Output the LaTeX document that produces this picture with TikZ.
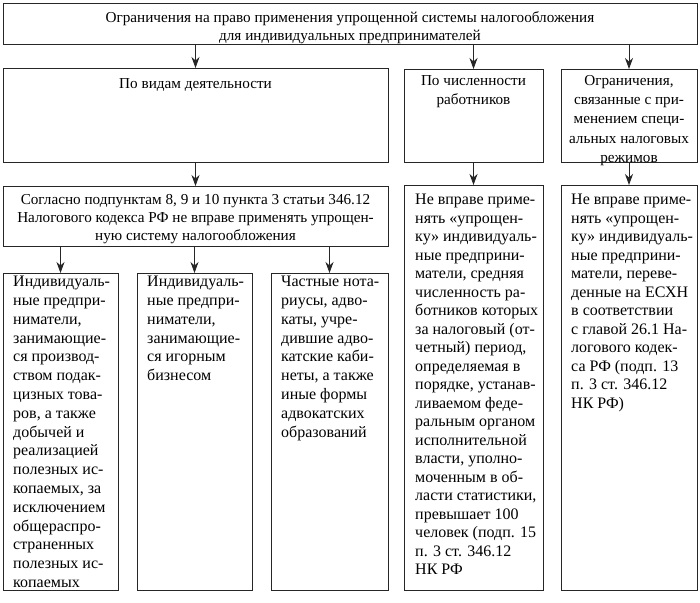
\documentclass[tikz,border=0pt]{standalone}
\usepackage{fontspec}
\setmainfont{Liberation Serif}
\usetikzlibrary{arrows.meta,calc}
\begin{document}
\begin{tikzpicture}[x=1pt,y=-1pt,
  box/.style={draw=black!85,line width=0.9pt,rectangle,inner sep=0pt,outer sep=0pt,anchor=north west},
  txt/.style={inner sep=0pt,font=\fontsize{16}{18.6}\selectfont,align=left,anchor=north west},
  ctxt/.style={inner sep=0pt,font=\fontsize{15.2}{18.6}\selectfont,align=center,anchor=north},
  arr/.style={draw=black!85,line width=0.9pt,-{Stealth[length=11pt,width=8pt,inset=3.5pt]}}]
\useasboundingbox[fill=white] (0,0) rectangle (700,602);
% boxes
\node[box,minimum width=694pt,minimum height=41pt] (top) at (3,3) {};
\node[box,minimum width=385pt,minimum height=94pt] (L2) at (3,68) {};
\node[box,minimum width=139pt,minimum height=93pt] (M2) at (404,69) {};
\node[box,minimum width=136pt,minimum height=93pt] (R2) at (561,69) {};
\node[box,minimum width=385pt,minimum height=60pt] (L3) at (3,186) {};
\node[box,minimum width=139pt,minimum height=405pt] (M3) at (404,185) {};
\node[box,minimum width=136pt,minimum height=405pt] (R3) at (561,185) {};
\node[box,minimum width=115pt,minimum height=317pt] (C1) at (3,273) {};
\node[box,minimum width=115pt,minimum height=317pt] (C2) at (137,273) {};
\node[box,minimum width=117pt,minimum height=317pt] (C3) at (271,273) {};
% texts
\node[ctxt,font=\fontsize{15.2}{18}\selectfont] (ttop) at ($(top.north)+(0,8)$) {Ограничения на право применения упрощенной системы налогообложения\\для индивидуальных предпринимателей};
\node[ctxt] (tL2) at ($(L2.north)+(0,10)$) {По видам деятельности};
\node[ctxt,font=\fontsize{15.2}{19.5}\selectfont] (tM2) at ($(M2.north)+(0,6)$) {По численности\\работников};
\node[ctxt,font=\fontsize{15.2}{19.3}\selectfont] (tR2) at ($(R2.north)+(0,6)$) {Ограничения,\\связанные с при-\\менением специ-\\альных налоговых\\режимов};
\node[ctxt,font=\fontsize{15.2}{18}\selectfont] (tL3) at ($(L3.north)+(0,8)$) {Согласно подпунктам 8, 9 и 10 пункта 3 статьи 346.12\\Налогового кодекса РФ не вправе применять упрощен-\\ную систему налогообложения};
\node[txt,font=\fontsize{16}{18.8}\selectfont] (tC1) at ($(C1.north west)+(10,3)$) {Индивидуаль-\\ные предпри-\\ниматели,\\занимающие-\\ся производ-\\ством подак-\\цизных това-\\ров, а также\\добычей и\\реализацией\\полезных ис-\\копаемых, за\\исключением\\общераспро-\\страненных\\полезных ис-\\копаемых};
\node[txt,font=\fontsize{16}{18.8}\selectfont] (tC2) at ($(C2.north west)+(10,3)$) {Индивидуаль-\\ные предпри-\\ниматели,\\занимающие-\\ся игорным\\бизнесом};
\node[txt,font=\fontsize{16}{18.8}\selectfont] (tC3) at ($(C3.north west)+(10,3)$) {Частные нота-\\риусы, адво-\\каты, учре-\\дившие адво-\\катские каби-\\неты, а также\\иные формы\\адвокатских\\образований};
\node[txt,font=\fontsize{16}{18.5}\selectfont] (tM3) at ($(M3.north west)+(11,9)$) {Не вправе приме-\\нять «упрощен-\\ку» индивидуаль-\\ные предприни-\\матели, средняя\\численность ра-\\ботников которых\\за налоговый (от-\\четный) период,\\определяемая в\\порядке, устанав-\\ливаемом феде-\\ральным органом\\исполнительной\\власти, уполно-\\моченным в об-\\ласти статистики,\\превышает 100\\человек (подп. 15\\п. 3 ст. 346.12\\НК РФ};
\node[txt,font=\fontsize{16}{18.5}\selectfont] (tR3) at ($(R3.north west)+(10,9)$) {Не вправе приме-\\нять «упрощен-\\ку» индивидуаль-\\ные предприни-\\матели, переве-\\денные на ЕСХН\\в соответствии\\с главой 26.1 На-\\логового кодек-\\са РФ (подп. 13\\п. 3 ст. 346.12\\НК РФ)};
% arrows
\draw[arr] (top.south -| L2.north) -- (L2.north);
\draw[arr] (top.south -| M2.north) -- (M2.north);
\draw[arr] (top.south -| R2.north) -- (R2.north);
\draw[arr] (L2.south) -- (L3.north);
\draw[arr] (M2.south) -- (M3.north);
\draw[arr] (R2.south) -- (R3.north);
\draw[arr] (L3.south -| C1.north) -- (C1.north);
\draw[arr] (L3.south -| C2.north) -- (C2.north);
\draw[arr] (L3.south -| C3.north) -- (C3.north);
\end{tikzpicture}
\end{document}
